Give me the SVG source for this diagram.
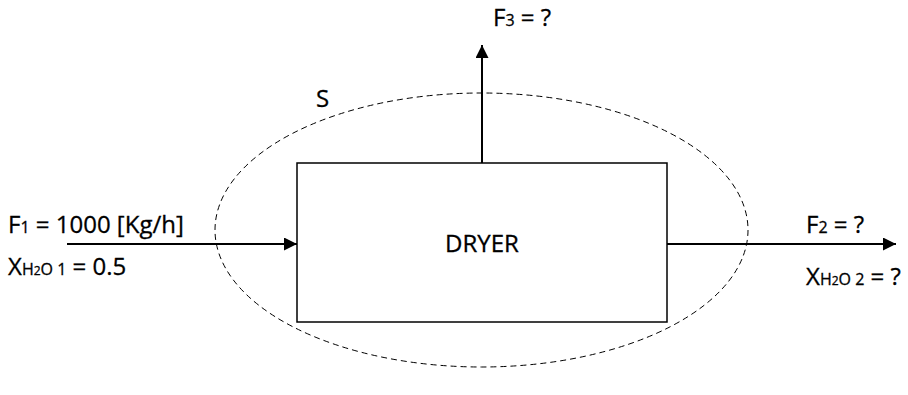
<svg xmlns="http://www.w3.org/2000/svg" width="908" height="395" viewBox="0 0 908 395">
<style>
text{font-family:"Open Sans","Liberation Sans",sans-serif;fill:#000;font-size:24px;stroke:#000;stroke-width:0.3}
.sub{font-size:16px}
.sub2{font-size:12px}
.flow{stroke:#000;stroke-width:2;fill:none}
</style>
<defs>
<marker id="ah" viewBox="0 0 10 10" refX="10" refY="5" markerWidth="13" markerHeight="13" markerUnits="userSpaceOnUse" orient="auto">
<path d="M0,0 L10,5 L0,10 z" fill="#000"/>
</marker>
</defs>
<rect width="908" height="395" fill="#fff"/>
<g id="boundary">
<ellipse cx="481.5" cy="230" rx="266.5" ry="137" fill="none" stroke="#000" stroke-width="1" stroke-dasharray="6,4"/>
<text x="316" y="107">S</text>
</g>
<g id="dryer">
<rect x="297" y="163" width="370" height="159" fill="none" stroke="#000" stroke-width="1.5"/>
<text x="482" y="252" text-anchor="middle">DRYER</text>
</g>
<g id="connectors">
<line class="flow" x1="67" y1="244" x2="297" y2="244" marker-end="url(#ah)"/>
<line class="flow" x1="667" y1="244" x2="896" y2="244" marker-end="url(#ah)"/>
<line class="flow" x1="482" y1="163" x2="482" y2="45" marker-end="url(#ah)"/>
</g>
<g id="labels">
<text x="8" y="233">F<tspan class="sub">1</tspan> = 1000 [Kg/h]</text>
<text x="8" y="275">X<tspan class="sub">H<tspan class="sub2">2</tspan>O 1</tspan> = 0.5</text>
<text x="806" y="233">F<tspan class="sub">2</tspan> = ?</text>
<text x="806" y="285">X<tspan class="sub">H<tspan class="sub2">2</tspan>O 2</tspan> = ?</text>
<text x="493" y="26">F<tspan class="sub">3</tspan> = ?</text>
</g>
</svg>
